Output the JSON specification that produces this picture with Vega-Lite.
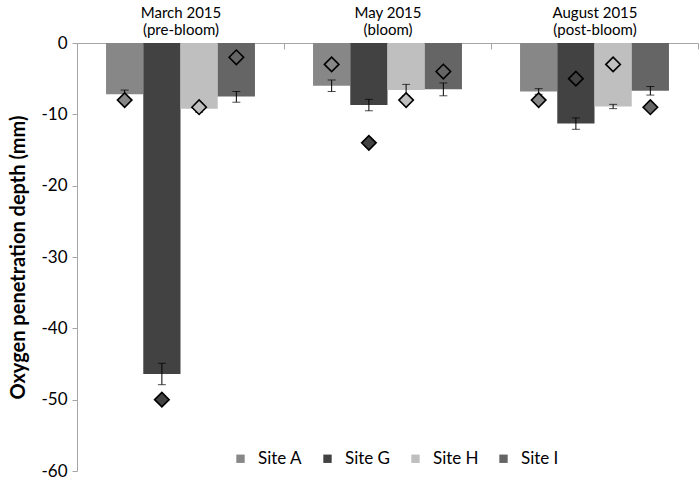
{
  "$schema": "https://vega.github.io/schema/vega-lite/v6.json",
  "width": 621,
  "height": 428,
  "autosize": {"type": "none"},
  "padding": {"left": 77, "top": 43, "right": 1, "bottom": 10},
  "background": "white",
  "config": {"font": "Lato", "view": {"stroke": null}},
  "data": {"values": [
    {"cat": "March 2015|(pre-bloom)", "site": "Site A", "value": -7.2, "lo": -7.8, "hi": -6.6, "d": -8},
    {"cat": "March 2015|(pre-bloom)", "site": "Site G", "value": -46.4, "lo": -47.9, "hi": -44.9, "d": -50},
    {"cat": "March 2015|(pre-bloom)", "site": "Site H", "value": -9.2, "lo": -9.7, "hi": -8.8, "d": -9},
    {"cat": "March 2015|(pre-bloom)", "site": "Site I", "value": -7.5, "lo": -8.3, "hi": -6.8, "d": -2},
    {"cat": "May 2015|(bloom)", "site": "Site A", "value": -6.0, "lo": -6.8, "hi": -5.2, "d": -3},
    {"cat": "May 2015|(bloom)", "site": "Site G", "value": -8.7, "lo": -9.5, "hi": -7.9, "d": -14},
    {"cat": "May 2015|(bloom)", "site": "Site H", "value": -6.6, "lo": -7.4, "hi": -5.8, "d": -8},
    {"cat": "May 2015|(bloom)", "site": "Site I", "value": -6.5, "lo": -7.4, "hi": -5.6, "d": -4},
    {"cat": "August 2015|(post-bloom)", "site": "Site A", "value": -6.8, "lo": -7.2, "hi": -6.4, "d": -8},
    {"cat": "August 2015|(post-bloom)", "site": "Site G", "value": -11.3, "lo": -12.1, "hi": -10.5, "d": -5},
    {"cat": "August 2015|(post-bloom)", "site": "Site H", "value": -8.9, "lo": -9.2, "hi": -8.6, "d": -3},
    {"cat": "August 2015|(post-bloom)", "site": "Site I", "value": -6.7, "lo": -7.3, "hi": -6.1, "d": -9}
  ]},
  "encoding": {
    "x": {
      "field": "cat", "type": "nominal", "sort": null,
      "scale": {"paddingInner": 0, "paddingOuter": 0},
      "axis": {
        "orient": "top", "title": null, "labelAngle": 0,
        "labelExpr": "datum.value ? split(datum.value, '|') : ''",
        "labelFont": "Lato", "labelFontSize": 15, "labelColor": "#000",
        "labelPadding": 29, "labelLineHeight": 17,
        "domainColor": "#a6a6a6", "tickColor": "#a6a6a6",
        "tickBand": "extent", "tickSize": -6
      }
    },
    "xOffset": {"field": "site", "type": "nominal", "scale": {"paddingInner": 0, "paddingOuter": 0.78}}
  },
  "layer": [
    {
      "mark": {"type": "bar"},
      "encoding": {
        "y": {
          "field": "value", "type": "quantitative",
          "scale": {"domain": [-60, 0], "nice": false},
          "axis": {
            "title": "Oxygen penetration depth (mm)",
            "titleFont": "Lato", "titleFontSize": 20, "titleFontWeight": "bold", "titleColor": "#000",
            "titlePadding": 12,
            "values": [0, -10, -20, -30, -40, -50, -60],
            "labelExpr": "replace(datum.label, '\u2212', '-')",
            "labelFont": "Lato", "labelFontSize": 17, "labelColor": "#000",
            "grid": false, "domainColor": "#a6a6a6", "tickColor": "#a6a6a6", "tickSize": 5, "labelPadding": 5
          }
        },
        "color": {
          "field": "site", "type": "nominal",
          "scale": {"domain": ["Site A", "Site G", "Site H", "Site I"], "range": ["#878787", "#424242", "#bfbfbf", "#656565"]},
          "legend": {
            "title": null, "orient": "none", "direction": "horizontal",
            "legendX": 155, "legendY": 407,
            "symbolType": "square", "symbolSize": 70, "symbolStrokeWidth": 0,
            "labelFont": "Lato", "labelFontSize": 17, "labelColor": "#000",
            "columnPadding": 16, "labelOffset": 9
          }
        }
      }
    },
    {
      "mark": {"type": "rule", "color": "#000", "strokeWidth": 1},
      "encoding": {
        "y": {"field": "lo", "type": "quantitative"},
        "y2": {"field": "hi"}
      }
    },
    {
      "mark": {"type": "tick", "color": "#000", "thickness": 1, "size": 8},
      "encoding": {"y": {"field": "lo", "type": "quantitative"}}
    },
    {
      "mark": {"type": "tick", "color": "#000", "thickness": 1, "size": 8},
      "encoding": {"y": {"field": "hi", "type": "quantitative"}}
    },
    {
      "mark": {"type": "point", "shape": "diamond", "filled": true, "size": 210, "stroke": "#000", "strokeWidth": 1.6, "opacity": 1},
      "encoding": {
        "y": {"field": "d", "type": "quantitative"},
        "fill": {
          "field": "site", "type": "nominal",
          "scale": {"domain": ["Site A", "Site G", "Site H", "Site I"], "range": ["#878787", "#424242", "#bfbfbf", "#656565"]},
          "legend": null
        }
      }
    }
  ]
}
